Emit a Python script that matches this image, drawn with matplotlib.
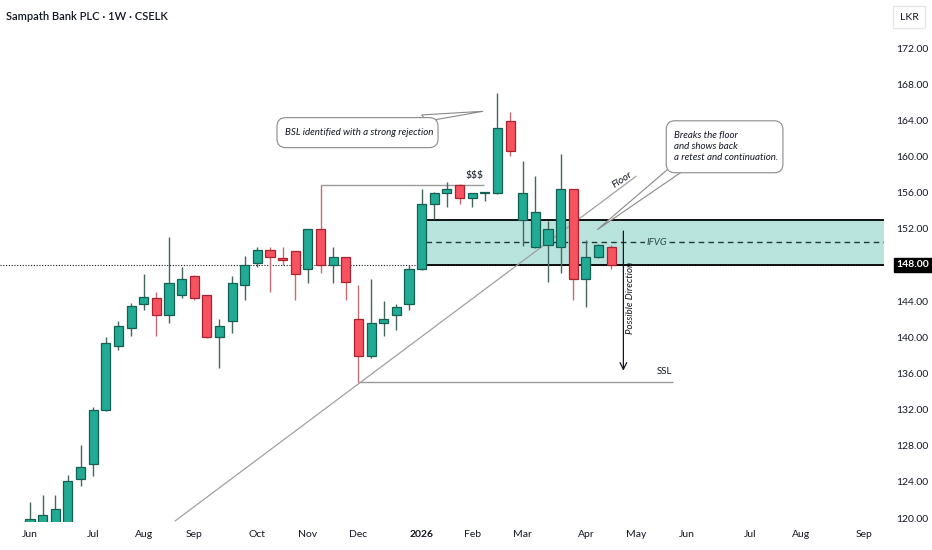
import numpy as np
import matplotlib.pyplot as plt
from matplotlib.patches import Rectangle, FancyBboxPatch, Polygon

plt.rcParams['font.family'] = ['Lato', 'DejaVu Sans']

# Weekly candles (index 0 = first week of June)
opens = [119.2, 119.3, 119.4, 119.4, 124.3, 126.0, 132.0, 139.0, 141.0, 143.7,
         144.3, 142.5, 144.7, 146.8, 144.7, 140.0, 141.8, 145.75, 148.25, 149.7,
         148.8, 149.5, 147.5, 152.0, 148.0, 148.9, 142.0, 137.9, 141.55, 142.5,
         143.7, 147.5, 154.7, 156.0, 156.8, 155.4, 155.95, 156.0, 163.9, 153.0,
         150.0, 150.2, 150.0, 156.4, 146.4, 148.9, 150.0]
highs = [121.8, 122.6, 122.6, 124.8, 128.1, 132.3, 140.0, 141.8, 143.8, 147.0,
         145.0, 151.1, 147.8, 146.9, 144.7, 142.0, 146.8, 149.0, 150.0, 150.0,
         150.0, 149.5, 152.0, 156.8, 150.0, 148.9, 145.8, 146.4, 144.0, 143.7,
         148.0, 156.4, 156.1, 157.2, 157.0, 156.0, 156.1, 167.0, 164.9, 159.5,
         157.8, 152.9, 160.3, 156.4, 150.75, 150.3, 150.2]
lows = [119.0, 119.0, 119.2, 119.2, 123.6, 124.7, 131.9, 138.6, 140.1, 143.0,
        140.1, 141.6, 144.3, 144.1, 139.9, 136.6, 140.5, 144.1, 147.8, 145.0,
        148.0, 144.1, 146.0, 147.1, 146.0, 144.1, 135.05, 137.7, 140.1, 140.8,
        143.0, 147.4, 153.05, 154.4, 154.8, 154.4, 155.1, 155.8, 160.0, 150.1,
        149.85, 146.1, 147.1, 144.1, 143.3, 148.8, 147.6]
closes = [119.9, 120.3, 121.0, 124.1, 125.6, 132.0, 139.4, 141.2, 143.5, 144.5,
          142.5, 146.0, 146.4, 144.4, 140.0, 141.2, 146.0, 148.0, 149.7, 148.9,
          148.5, 147.0, 152.0, 148.0, 148.9, 146.15, 137.9, 141.55, 142.0, 143.3,
          147.5, 154.7, 156.0, 156.4, 155.4, 156.0, 156.05, 163.1, 160.6, 156.0,
          153.9, 151.95, 156.4, 146.4, 148.9, 150.2, 148.0]

month_pos = [0, 5, 9, 13, 18, 22, 26, 31, 35, 39, 44, 48, 52, 57, 61, 66]
month_labels = ['Jun', 'Jul', 'Aug', 'Sep', 'Oct', 'Nov', 'Dec', '2026', 'Feb',
                'Mar', 'Apr', 'May', 'Jun', 'Jul', 'Aug', 'Sep']
price_ticks = list(range(120, 173, 4))
last_price = 148.0

# Drawn levels
zone_top, zone_mid, zone_bottom = 153.0, 150.5, 148.0
zone_start = 31.35
bsl_level, bsl_from, bsl_to = 156.8, 23, 35.95
ssl_level, ssl_from, ssl_to = 135.05, 26, 50.9
trend_x = [11.5, 47.96]
trend_y = [119.7, 157.8]
arrow_x, arrow_from, arrow_to = 46.97, 152.06, 136.0

green, green_edge, green_wick = '#22ab94', '#155e52', '#46655e'
red, red_edge, red_wick = '#f7525f', '#a8232f', '#c76b74'

fig = plt.figure(figsize=(9.32, 5.5), dpi=100)
ax = fig.add_axes([0, 28 / 550, 884 / 932, 522 / 550])
xmin, xmax = -2.375, 67.6
ax.set_xlim(xmin, xmax)
ax.set_ylim(119.57, 177.31)

x = np.arange(len(opens))
o = np.array(opens)
c = np.array(closes)
up = c >= o

# IFVG zone
ax.add_patch(Rectangle((zone_start, zone_bottom), xmax - zone_start, zone_top - zone_bottom,
                       facecolor='#b9e3dd', edgecolor='none', zorder=1))
ax.hlines([zone_top, zone_bottom], zone_start, xmax, color='black', lw=1.3, zorder=2)
ax.hlines(zone_mid, zone_start, xmax, color='#1f3b36', lw=1.0, linestyles=(0, (4, 3)), zorder=2)

# current price line
ax.axhline(last_price, color='#131722', lw=0.8, ls=(0, (1, 1.5)), zorder=1.5)

# candles
ax.vlines(x[up], np.array(lows)[up], np.array(highs)[up], color=green_wick, lw=1, zorder=3)
ax.vlines(x[~up], np.array(lows)[~up], np.array(highs)[~up], color=red_wick, lw=1, zorder=3)
body_h = np.maximum(np.abs(c - o), 0.12)
ax.bar(x[up], body_h[up], bottom=np.minimum(o, c)[up], width=0.72,
       color=green, edgecolor=green_edge, linewidth=0.9, zorder=4)
ax.bar(x[~up], body_h[~up], bottom=np.minimum(o, c)[~up], width=0.72,
       color=red, edgecolor=red_edge, linewidth=0.9, zorder=4)

# BSL / SSL / trend lines
ax.hlines(bsl_level, bsl_from, bsl_to, color='#9a9a9a', lw=1, zorder=2.5)
ax.text(35.2, 157.9, '$$$', fontsize=7.5, ha='center', va='center', color='#131722')
ax.hlines(ssl_level, ssl_from, ssl_to, color='#9a9a9a', lw=1, zorder=2.5)
ax.text(50.2, 136.2, 'SSL', fontsize=7, ha='center', va='center', color='#131722')
ax.plot(trend_x, trend_y, color='#a0a0a0', lw=0.9, zorder=2.5)
ax.text(46.9, 157.4, 'Floor', fontsize=7.5, style='italic', rotation=34,
        ha='center', va='center', color='#131722')

# possible direction arrow
ax.annotate('', xy=(arrow_x, arrow_to), xytext=(arrow_x, arrow_from),
            arrowprops=dict(arrowstyle='->', color='#131722', lw=0.9,
                            mutation_scale=12), zorder=5)
ax.text(47.55, 144.4, 'Possible Direction', fontsize=7, style='italic', rotation=90,
        ha='center', va='center', color='#131722')
ax.text(49.6, zone_mid, 'IFVG', fontsize=7, style='italic', ha='center', va='center',
        color='#2a4a44', zorder=3,
        bbox=dict(facecolor='#b9e3dd', edgecolor='none', pad=1))

# callouts
aspect = 12.63 / 9.04


def callout(x0, y0, w, h, tail, text_xy, text):
    ax.add_patch(Polygon(tail, closed=True, facecolor='white', edgecolor='#8a8a8a',
                         lw=0.8, zorder=6))
    ax.add_patch(FancyBboxPatch((x0, y0), w, h, boxstyle='round,pad=0,rounding_size=0.7',
                                mutation_aspect=aspect, facecolor='white',
                                edgecolor='#8a8a8a', lw=0.8, zorder=7))
    ax.text(text_xy[0], text_xy[1], text, fontsize=7, style='italic', ha='left',
            va='center', color='#131722', zorder=8, linespacing=1.25)


callout(19.55, 160.98, 12.75, 3.32,
        [(31.0, 164.6), (35.87, 165.0), (31.4, 163.9)],
        (20.2, 162.65), 'BSL identified with a strong rejection')
callout(50.36, 158.2, 9.24, 5.75,
        [(51.0, 159.2), (44.9, 151.9), (51.9, 158.6)],
        (50.95, 161.1), 'Breaks the floor\nand shows back\na retest and continuation.')

# axes styling
for s in ax.spines.values():
    s.set_visible(False)
ax.yaxis.tick_right()
ax.set_yticks(price_ticks)
ax.set_yticklabels([f'{p:.2f}' for p in price_ticks])
ax.set_xticks(month_pos)
ax.set_xticklabels(month_labels)
ax.tick_params(axis='both', length=0, labelsize=7.5, colors='#131722')
ax.tick_params(axis='y', pad=9)
ax.tick_params(axis='x', pad=6)
for lab in ax.get_xticklabels():
    if lab.get_text() == '2026':
        lab.set_fontweight('bold')

ax.annotate(f'{last_price:.2f}', xy=(1, last_price), xycoords=('axes fraction', 'data'),
            xytext=(9, 0), textcoords='offset points', ha='left', va='center',
            fontsize=7.5, color='white', fontweight='bold',
            bbox=dict(boxstyle='square,pad=0.25', facecolor='black', edgecolor='black'),
            annotation_clip=False)

fig.text(6 / 932, 1 - 17 / 550, 'Sampath Bank PLC · 1W · CSELK', fontsize=8,
         fontweight='semibold', va='center', ha='left', color='#131722')
fig.text(909 / 932, 1 - 17 / 550, 'LKR', fontsize=7.5, ha='center', va='center',
         color='#131722',
         bbox=dict(boxstyle='square,pad=0.6', facecolor='white', edgecolor='#e6e6e6'))

fig.savefig('out.png', dpi=100)
